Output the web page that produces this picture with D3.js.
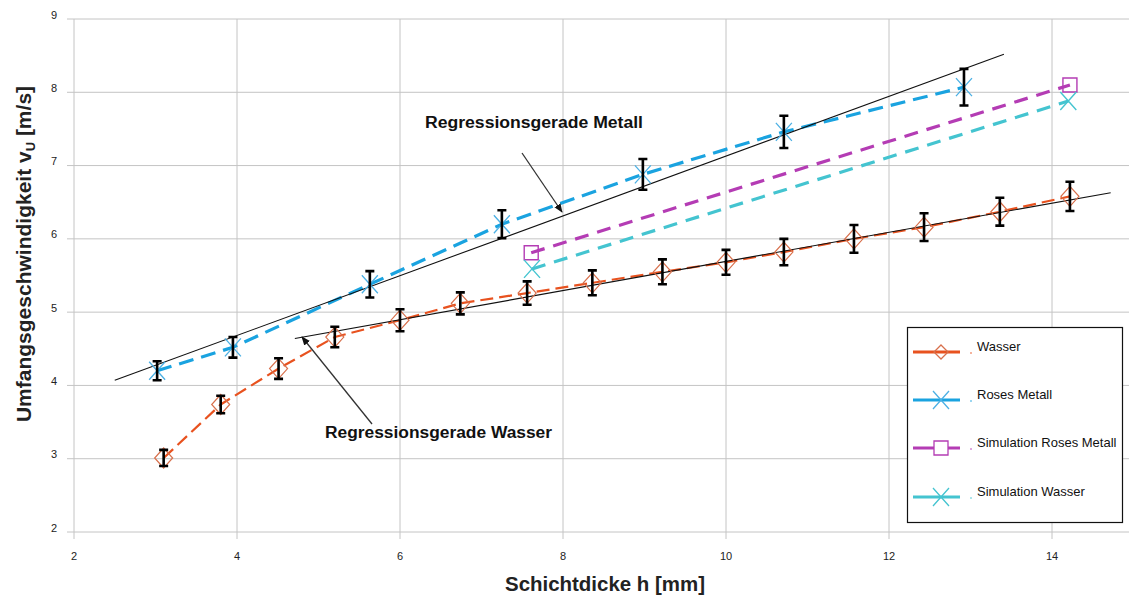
<!DOCTYPE html>
<html><head><meta charset="utf-8">
<script src="https://cdn.jsdelivr.net/npm/d3@7"></script>
<style>body{margin:0;background:#fff} text{font-family:"Liberation Sans",Arial,sans-serif}</style>
</head><body><svg id="c" width="1129" height="597"></svg>
<script>
const xTicks=[2,4,6,8,10,12,14];
const yTicks=[2,3,4,5,6,7,8,9];
const wasserX=[3.1,3.8,4.51,5.2,6.0,6.74,7.56,8.36,9.22,10.0,10.71,11.57,12.43,13.36,14.22];
const wasserY=[3.01,3.74,4.23,4.66,4.89,5.12,5.26,5.4,5.55,5.68,5.82,6.0,6.16,6.37,6.58];
const wasserErr=[0.11,0.12,0.14,0.14,0.15,0.15,0.16,0.17,0.17,0.17,0.18,0.19,0.19,0.19,0.2];
const metallX=[3.02,3.95,5.63,7.25,8.98,10.71,12.92];
const metallY=[4.2,4.52,5.38,6.2,6.88,7.46,8.07];
const metallErr=[0.13,0.14,0.18,0.19,0.21,0.22,0.25];
const simMetallX=[7.61,14.22], simMetallY=[5.81,8.1];
const simWasserX=[7.62,14.2], simWasserY=[5.59,7.88];
const regMetallX=[2.5,13.41], regMetallY=[4.07,8.52];
const regWasserX=[4.71,14.72], regWasserY=[4.64,6.63];
const legendLabels=["Wasser","Roses Metall","Simulation Roses Metall","Simulation Wasser"];

const svg=d3.select("#c");
const x=d3.scaleLinear().domain([2,14]).range([74,1052]);
const y=d3.scaleLinear().domain([2,9]).range([532,19]);
const W=1129;
const grid="#c4c4c4";

// grid
svg.append("g").selectAll("line").data(yTicks).join("line")
  .attr("x1",67).attr("x2",W).attr("y1",d=>y(d)).attr("y2",d=>y(d))
  .attr("stroke",grid).attr("stroke-width",1);
svg.append("g").selectAll("line").data(xTicks).join("line")
  .attr("x1",d=>x(d)).attr("x2",d=>x(d)).attr("y1",y(9)).attr("y2",y(2)+7)
  .attr("stroke",grid).attr("stroke-width",1);
// tick labels
svg.append("g").selectAll("text").data(yTicks).join("text")
  .attr("x",57).attr("y",d=>y(d)-0.5).attr("text-anchor","end")
  .attr("font-size",11).attr("fill","#222").text(d=>d);
svg.append("g").selectAll("text").data(xTicks).join("text")
  .attr("x",d=>x(d)).attr("y",560).attr("text-anchor","middle")
  .attr("font-size",11).attr("fill","#222").text(d=>d);

// axis titles
svg.append("text").attr("x",605).attr("y",591).attr("text-anchor","middle")
  .attr("font-size",21).attr("font-weight","bold").attr("fill","#222")
  .attr("textLength",200).attr("lengthAdjust","spacingAndGlyphs").text("Schichtdicke h [mm]");
const yt=svg.append("text").attr("transform","translate(31,254) rotate(-90)")
  .attr("text-anchor","middle").attr("font-size",21).attr("font-weight","bold").attr("fill","#222");
yt.append("tspan").text("Umfangsgeschwindigkeit v");
yt.append("tspan").attr("font-size",13).attr("dy",4).text("U");
yt.append("tspan").attr("dy",-4).text(" [m/s]");

const line=d3.line().x(d=>x(d[0])).y(d=>y(d[1]));
const zip=(a,b)=>a.map((v,i)=>[v,b[i]]);

const colW="#e8521f", colM="#1aa3e0", colSM="#b43cb4", colSW="#44c4d0";
const mkW="#d8704c", mkM="#4cb0e4";

// series lines
svg.append("path").datum(zip(simWasserX,simWasserY)).attr("d",line).attr("fill","none")
  .attr("stroke",colSW).attr("stroke-width",3.2).attr("stroke-dasharray","14,9");
svg.append("path").datum(zip(simMetallX,simMetallY)).attr("d",line).attr("fill","none")
  .attr("stroke",colSM).attr("stroke-width",3.2).attr("stroke-dasharray","14,9");
svg.append("path").datum(zip(metallX,metallY)).attr("d",line).attr("fill","none")
  .attr("stroke",colM).attr("stroke-width",3.2).attr("stroke-dasharray","15,8");
svg.append("path").datum(zip(wasserX,wasserY)).attr("d",line).attr("fill","none")
  .attr("stroke",colW).attr("stroke-width",2.2).attr("stroke-dasharray","13,6");

// regression lines
[[regMetallX,regMetallY],[regWasserX,regWasserY]].forEach(([a,b])=>{
  svg.append("path").datum(zip(a,b)).attr("d",line).attr("fill","none")
    .attr("stroke","#111").attr("stroke-width",1.1);
});

// markers
const diamond="M0,-10L9,0L0,10L-9,0Z";
const cross="M-8,-9L8,9M-8,9L8,-9";
const square="M-7,-7H7V7H-7Z";
svg.append("g").selectAll("path").data(zip(wasserX,wasserY)).join("path")
  .attr("transform",d=>`translate(${x(d[0])},${y(d[1])})`).attr("d",diamond)
  .attr("fill","none").attr("stroke",mkW).attr("stroke-width",1.2);
svg.append("g").selectAll("path").data(zip(metallX,metallY)).join("path")
  .attr("transform",d=>`translate(${x(d[0])},${y(d[1])})`).attr("d",cross)
  .attr("fill","none").attr("stroke",mkM).attr("stroke-width",1.3);
svg.append("g").selectAll("path").data(zip(simMetallX,simMetallY)).join("path")
  .attr("transform",d=>`translate(${x(d[0])},${y(d[1])})`).attr("d",square)
  .attr("fill","none").attr("stroke",colSM).attr("stroke-width",1.4);
svg.append("g").selectAll("path").data(zip(simWasserX,simWasserY)).join("path")
  .attr("transform",d=>`translate(${x(d[0])},${y(d[1])})`).attr("d",cross)
  .attr("fill","none").attr("stroke",colSW).attr("stroke-width",1.4);

// error bars
function errBars(xs,ys,es){
  const g=svg.append("g").attr("stroke","#000").attr("stroke-width",2.6).attr("fill","none");
  xs.forEach((xv,i)=>{
    const px=x(xv), y1=y(ys[i]+es[i]), y2=y(ys[i]-es[i]);
    g.append("path").attr("d",`M${px},${y1}V${y2}M${px-4.5},${y1}H${px+4.5}M${px-4.5},${y2}H${px+4.5}`);
  });
}
errBars(wasserX,wasserY,wasserErr);
errBars(metallX,metallY,metallErr);

// annotations
const defs=svg.append("defs");
defs.append("marker").attr("id","ah").attr("viewBox","0 0 10 10").attr("refX",9).attr("refY",5)
  .attr("markerWidth",9).attr("markerHeight",9).attr("markerUnits","userSpaceOnUse").attr("orient","auto")
  .append("path").attr("d","M0,1L10,5L0,9Z").attr("fill","#111");
svg.append("line").attr("x1",522).attr("y1",153).attr("x2",562).attr("y2",212)
  .attr("stroke","#333").attr("stroke-width",1.3).attr("marker-end","url(#ah)");
svg.append("line").attr("x1",372).attr("y1",424).attr("x2",302).attr("y2",337)
  .attr("stroke","#333").attr("stroke-width",1.3).attr("marker-end","url(#ah)");
svg.append("text").attr("x",425).attr("y",128).attr("font-size",16).attr("font-weight","bold")
  .attr("fill","#111").attr("textLength",218).attr("lengthAdjust","spacingAndGlyphs").text("Regressionsgerade Metall");
svg.append("text").attr("x",325).attr("y",438).attr("font-size",16).attr("font-weight","bold")
  .attr("fill","#111").attr("textLength",227).attr("lengthAdjust","spacingAndGlyphs").text("Regressionsgerade Wasser");

// legend
const lg=svg.append("g");
lg.append("rect").attr("x",907.5).attr("y",327.5).attr("width",215).attr("height",195)
  .attr("fill","#fff").attr("stroke","#111").attr("stroke-width",1.2);
const lgY=[352,400,448,497];
const lgCol=[colW,colM,colSM,colSW];
const lgMk=[[diamond,mkW],[cross,mkM],[square,colSM],[cross,colSW]];
legendLabels.forEach((t,i)=>{
  const yy=lgY[i];
  lg.append("line").attr("x1",913).attr("x2",960).attr("y1",yy).attr("y2",yy)
    .attr("stroke",lgCol[i]).attr("stroke-width",3);
  lg.append("path").attr("transform",`translate(941,${yy})`)
    .attr("d",lgMk[i][0]==diamond?"M0,-7L7,0L0,7L-7,0Z":lgMk[i][0]).attr("fill",i==2?"#fff":"none").attr("stroke",lgMk[i][1]).attr("stroke-width",1.3);
  lg.append("circle").attr("cx",971).attr("cy",yy+1).attr("r",0.8).attr("fill",lgCol[i]);
  lg.append("text").attr("x",977).attr("y",yy-1).attr("font-size",13).attr("fill","#111").text(t);
});
</script></body></html>
